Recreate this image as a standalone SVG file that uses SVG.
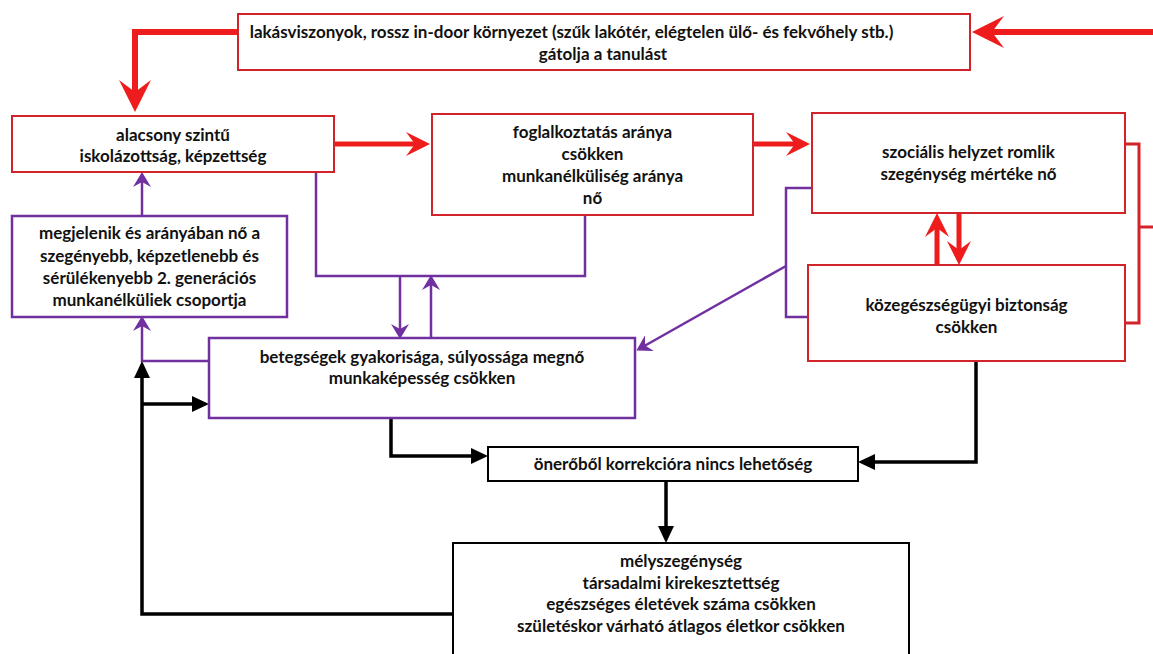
<svg xmlns="http://www.w3.org/2000/svg" width="1153" height="654" viewBox="0 0 1153 654">
<style>
  text { font-family: Lato, "Liberation Sans", sans-serif; font-weight: bold; font-size: 17px; fill: #111; text-anchor: middle; }
  .boxR { fill: #fff; stroke: #d2232a; stroke-width: 2; }
  .boxP { fill: #fff; stroke: #7030a0; stroke-width: 2.5; }
  .boxK { fill: #fff; stroke: #000; stroke-width: 2; }
  .cR { fill: none; stroke: #ee1c1c; stroke-width: 6; }
  .cRs { fill: none; stroke: #ee1c1c; stroke-width: 5; }
  .cRb { fill: none; stroke: #d2232a; stroke-width: 3; }
  .cP { fill: none; stroke: #7030a0; stroke-width: 2.5; }
  .cK { fill: none; stroke: #000; stroke-width: 3.5; }
</style>
<defs>
  <marker id="redL" markerUnits="userSpaceOnUse" viewBox="0 -16 32 32" markerWidth="32" markerHeight="32" refX="14" refY="0" orient="auto">
    <path d="M0,-16 L32,0 L0,16 L12,0 Z" fill="#ee1c1c"/>
  </marker>
  <marker id="redS" markerUnits="userSpaceOnUse" viewBox="0 -12 24 24" markerWidth="24" markerHeight="24" refX="11" refY="0" orient="auto">
    <path d="M0,-12 L24,0 L0,12 L9,0 Z" fill="#ee1c1c"/>
  </marker>
  <marker id="purp" markerUnits="userSpaceOnUse" viewBox="0 -9 15 18" markerWidth="15" markerHeight="18" refX="12" refY="0" orient="auto">
    <path d="M0,-9 L15,0 L0,9 L5,0 Z" fill="#7030a0"/>
  </marker>
  <marker id="blk" markerUnits="userSpaceOnUse" viewBox="0 -8 17 16" markerWidth="17" markerHeight="16" refX="5" refY="0" orient="auto">
    <path d="M0,-8 L17,0 L0,8 Z" fill="#000"/>
  </marker>
</defs>
<rect width="1153" height="654" fill="#fff"/>

<g id="connectors">
  <!-- red -->
  <path class="cR" d="M238,32 H135 V94" marker-end="url(#redL)"/>
  <path class="cR" d="M1153,32 H990" marker-end="url(#redL)"/>
  <path class="cRs" d="M334,144 H417" marker-end="url(#redS)"/>
  <path class="cRs" d="M753,144 H797" marker-end="url(#redS)"/>
  <path class="cRs" d="M937,265 V226" marker-end="url(#redS)"/>
  <path class="cRs" d="M959,213 V252" marker-end="url(#redS)"/>
  <path class="cRb" d="M1125,144 H1139 V323 H1125"/>
  <path class="cRb" d="M1139,227 H1153"/>
  <!-- purple -->
  <path class="cP" d="M142,216 V175" marker-end="url(#purp)"/>
  <path class="cP" d="M209,361 H142 V319" marker-end="url(#purp)"/>
  <path class="cP" d="M316,172 V276 H585 V215"/>
  <path class="cP" d="M400,276 V336" marker-end="url(#purp)"/>
  <path class="cP" d="M431,338 V278" marker-end="url(#purp)"/>
  <path class="cP" d="M812,188 H786 V317 H808"/>
  <path class="cP" d="M786,266 L639,349" marker-end="url(#purp)"/>
  <!-- black -->
  <path class="cK" d="M391,418 V456 H476" marker-end="url(#blk)"/>
  <path class="cK" d="M976,361 V462 H870" marker-end="url(#blk)"/>
  <path class="cK" d="M666,481 V531" marker-end="url(#blk)"/>
  <path class="cK" d="M453,614 H142 V373" marker-end="url(#blk)"/>
  <path class="cK" d="M142,404 H197" marker-end="url(#blk)"/>
</g>

<g id="node-lakas">
  <rect class="boxR" x="238" y="14" width="732" height="56"/>
  <text x="571.5" y="38">lakásviszonyok, rossz in-door környezet (szűk lakótér, elégtelen ülő- és fekvőhely stb.)</text>
  <text x="603" y="60">gátolja a tanulást</text>
</g>

<g id="node-alacsony">
  <rect class="boxR" x="12" y="116" width="322" height="56"/>
  <text x="173" y="141">alacsony szintű</text>
  <text x="173" y="162">iskolázottság, képzettség</text>
</g>

<g id="node-foglalkoztatas">
  <rect class="boxR" x="432" y="114" width="321" height="101"/>
  <text x="592.5" y="138">foglalkoztatás aránya</text>
  <text x="592.5" y="160">csökken</text>
  <text x="592.5" y="182">munkanélküliség aránya</text>
  <text x="592.5" y="204">nő</text>
</g>

<g id="node-szocialis">
  <rect class="boxR" x="812" y="113" width="313" height="100"/>
  <text x="968.5" y="158">szociális helyzet romlik</text>
  <text x="968.5" y="180">szegénység mértéke nő</text>
</g>

<g id="node-kozegeszseg">
  <rect class="boxR" x="808" y="265" width="317" height="96"/>
  <text x="966.5" y="311">közegészségügyi biztonság</text>
  <text x="966.5" y="333">csökken</text>
</g>

<g id="node-megjelenik">
  <rect class="boxP" x="12" y="216" width="275" height="101"/>
  <text x="149.5" y="239">megjelenik és arányában nő a</text>
  <text x="149.5" y="262">szegényebb, képzetlenebb és</text>
  <text x="149.5" y="284">sérülékenyebb 2. generációs</text>
  <text x="149.5" y="306">munkanélküliek csoportja</text>
</g>

<g id="node-betegsegek">
  <rect class="boxP" x="209" y="338" width="426" height="80"/>
  <text x="422" y="363">betegségek gyakorisága, súlyossága megnő</text>
  <text x="422" y="384">munkaképesség csökken</text>
</g>

<g id="node-onerobol">
  <rect class="boxK" x="488" y="447" width="370" height="34"/>
  <text x="673" y="470">önerőből korrekcióra nincs lehetőség</text>
</g>

<g id="node-melyszegenyseg">
  <rect class="boxK" x="453" y="543" width="456" height="125"/>
  <text x="681" y="567">mélyszegénység</text>
  <text x="681" y="589">társadalmi kirekesztettség</text>
  <text x="681" y="610">egészséges életévek száma csökken</text>
  <text x="681" y="632">születéskor várható átlagos életkor csökken</text>
</g>
</svg>
